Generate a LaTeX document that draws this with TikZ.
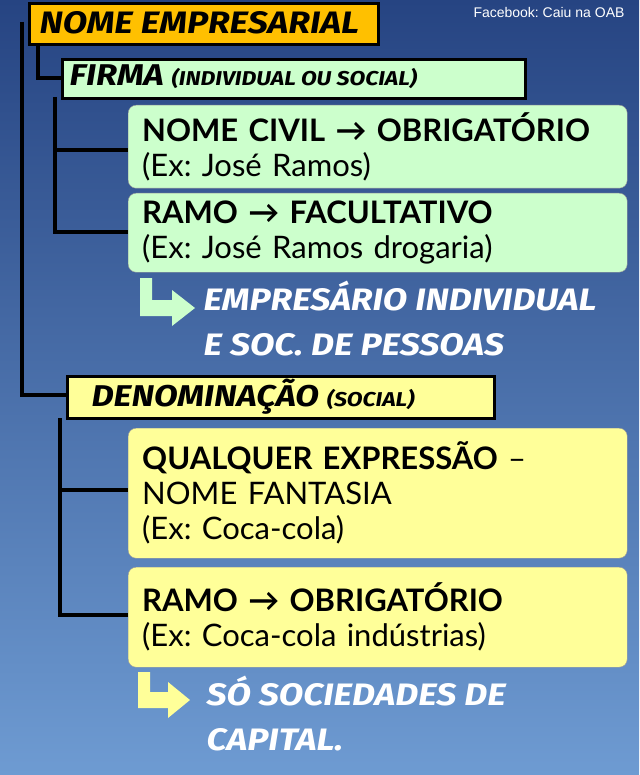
\documentclass[tikz,border=0pt]{standalone}
\usepackage{fontspec}
\setmainfont{Lato}
\newfontfamily\comic[FakeStretch=1.15]{Fira Sans}
\newfontfamily\arialf{Liberation Sans}
\definecolor{lgreen}{RGB}{204,255,204}
\definecolor{lyellow}{RGB}{255,255,153}
\definecolor{orng}{RGB}{255,192,0}
\definecolor{bgtop}{RGB}{38,68,130}
\definecolor{bgbot}{RGB}{110,155,210}
\frenchspacing
\begin{document}
\begin{tikzpicture}[x=1pt,y=-1pt,
  hdr/.style={draw=black,line width=3pt,anchor=north west,inner sep=0pt},
  info/.style={draw=black!40,rounded corners=8pt,anchor=north west,inner xsep=14pt,align=left,font=\frenchspacing\fontsize{31}{35}\selectfont,text width=471pt},
  wire/.style={line width=4pt,black},
  wtxt/.style={white,font=\comic\bfseries\itshape\fontsize{31}{45}\selectfont,anchor=north west,align=left}]
\shade[top color=bgtop,bottom color=bgbot] (0,0) rectangle (639,775);
\useasboundingbox (0,0) rectangle (639,775);
% wires
\coordinate (w1) at (22,22);
\coordinate (w2) at (22,395);
\draw[wire] (w1) -- (w2) -- (68,395);
\coordinate (f1) at (38,44);
\draw[wire] (f1) -- (38,78) -- (62,78);
\draw[wire] (55,97) -- (55,232) -- (130,232);
\draw[wire] (55,150) -- (130,150);
\draw[wire] (60,418) -- (60,615) -- (130,615);
\draw[wire] (60,490) -- (130,490);
% headers
\node[hdr,fill=orng,minimum width=349pt,minimum height=41pt] (ne) at (28,2) {};
\node[font=\comic\bfseries\itshape\fontsize{31}{34}\selectfont,anchor=west] at (36,23) {NOME EMPRESARIAL};
\node[white,font=\arialf\fontsize{14}{16}\selectfont,anchor=north east] (fb) at (628,4) {Facebook: Caiu na OAB};
\node[hdr,fill=lgreen,minimum width=463pt,minimum height=39pt] (fi) at (61,58) {};
\node[anchor=west,font=\comic\bfseries\itshape] at (66,77) {\fontsize{30}{32}\selectfont FIRMA \fontsize{20}{22}\selectfont(INDIVIDUAL OU SOCIAL)};
\node[hdr,fill=lyellow,minimum width=427pt,minimum height=42pt] (de) at (66,375) {};
\node[anchor=west,font=\comic\bfseries\itshape] at (88,397) {\fontsize{30}{32}\selectfont DENOMINAÇÃO \fontsize{20}{22}\selectfont(SOCIAL)};
% info boxes
\node[info,fill=lgreen,minimum height=83pt] (nc) at (128,105) {\textbf{NOME CIVIL → OBRIGATÓRIO}\\(Ex: José Ramos)};
\node[info,fill=lgreen,minimum height=79pt] (r1) at (128,193) {\textbf{RAMO → FACULTATIVO}\\(Ex: José Ramos drogaria)};
\node[info,fill=lyellow,minimum height=130pt] (q) at (128,428) {\textbf{QUALQUER EXPRESSÃO} –\\NOME FANTASIA\\(Ex: Coca-cola)};
\node[info,fill=lyellow,minimum height=100pt] (r2) at (128,567) {\textbf{RAMO → OBRIGATÓRIO}\\(Ex: Coca-cola indústrias)};
% bent arrows
\fill[lgreen] (140,278) -- (152,278) -- (152,300) -- (172,300) -- (172,290) -- (195,308) -- (172,326) -- (172,316) -- (140,316) -- cycle;
\fill[lyellow] (138,672) -- (150,672) -- (150,692) -- (168,692) -- (168,682) -- (190,700) -- (168,718) -- (168,708) -- (138,708) -- cycle;
\node[wtxt] (t1) at (200,278) {EMPRESÁRIO INDIVIDUAL\\E SOC. DE PESSOAS};
\node[wtxt] (t2) at (203,673) {SÓ SOCIEDADES DE\\CAPITAL.};
\end{tikzpicture}
\end{document}
